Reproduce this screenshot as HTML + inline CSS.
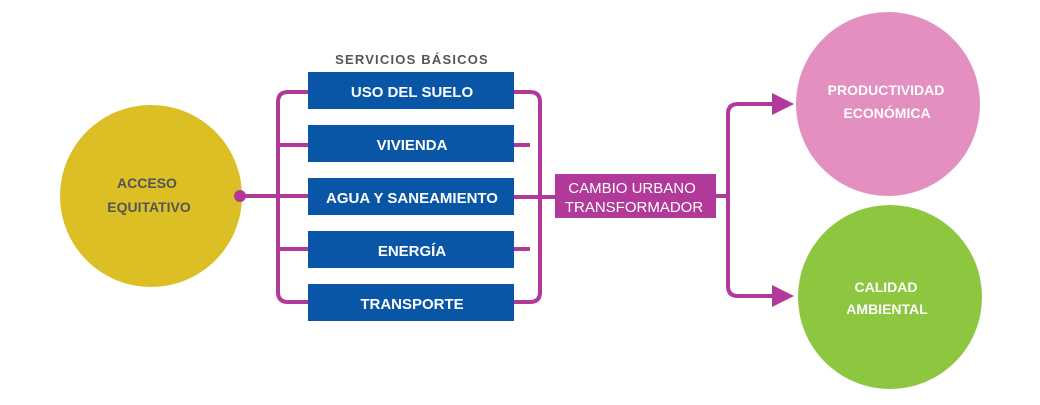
<!DOCTYPE html>
<html><head><meta charset="utf-8"><style>
body{margin:0;background:#fff;width:1040px;height:400px;overflow:hidden}
</style></head><body>
<svg width="1040" height="400" xmlns="http://www.w3.org/2000/svg" font-family="Liberation Sans, sans-serif">
<g fill="none" stroke="#b0399a" stroke-width="4">
<path d="M240 196 H296"/>
<path d="M308 92 H288 Q278 92 278 102 V292 Q278 302 288 302 H308"/>
<path d="M278 145 H308 M278 249 H308 M278 196 H308"/>
<path d="M514 92 H530 Q540 92 540 102 V292 Q540 302 530 302 H514"/>
<path d="M514 145 H530 M514 249 H530 M514 197 H556"/>
<path d="M716 196 H728"/>
<path d="M778 104 H738 Q728 104 728 114 V286 Q728 296 738 296 H778"/>
</g>
<polygon points="772,93 794,104 772,115" fill="#b0399a"/>
<polygon points="772,285 794,296 772,307" fill="#b0399a"/>
<circle cx="151" cy="196" r="91" fill="#dcbf25"/>
<circle cx="888" cy="104" r="92" fill="#e38fbf"/>
<circle cx="890" cy="297" r="92" fill="#8dc63f"/>
<circle cx="240" cy="196" r="6" fill="#b0399a"/>
<text x="412" y="64" text-anchor="middle" font-size="13" font-weight="bold" fill="#555" letter-spacing="1.2">SERVICIOS BÁSICOS</text>
<g fill="#0a56a6">
<rect x="308" y="72" width="206" height="37"/>
<rect x="308" y="125" width="206" height="37"/>
<rect x="308" y="178" width="206" height="37"/>
<rect x="308" y="231" width="206" height="37"/>
<rect x="308" y="284" width="206" height="37"/>
</g>
<g fill="#fff" font-size="15" font-weight="bold" text-anchor="middle">
<text x="412" y="97">USO DEL SUELO</text>
<text x="412" y="150">VIVIENDA</text>
<text x="412" y="203">AGUA Y SANEAMIENTO</text>
<text x="412" y="256">ENERGÍA</text>
<text x="412" y="309">TRANSPORTE</text>
</g>
<rect x="555" y="174" width="161" height="44" fill="#b0399a"/>
<g fill="#fff" font-size="15" text-anchor="middle">
<text x="632" y="193">CAMBIO URBANO</text>
<text x="634" y="212">TRANSFORMADOR</text>
</g>
<g fill="#555" font-size="14" font-weight="bold" text-anchor="middle">
<text x="147" y="188">ACCESO</text>
<text x="149" y="212">EQUITATIVO</text>
</g>
<g fill="#fff" font-size="14" font-weight="bold" text-anchor="middle">
<text x="886" y="95">PRODUCTIVIDAD</text>
<text x="887" y="118">ECONÓMICA</text>
<text x="886" y="292">CALIDAD</text>
<text x="887" y="314">AMBIENTAL</text>
</g>
</svg>
</body></html>
